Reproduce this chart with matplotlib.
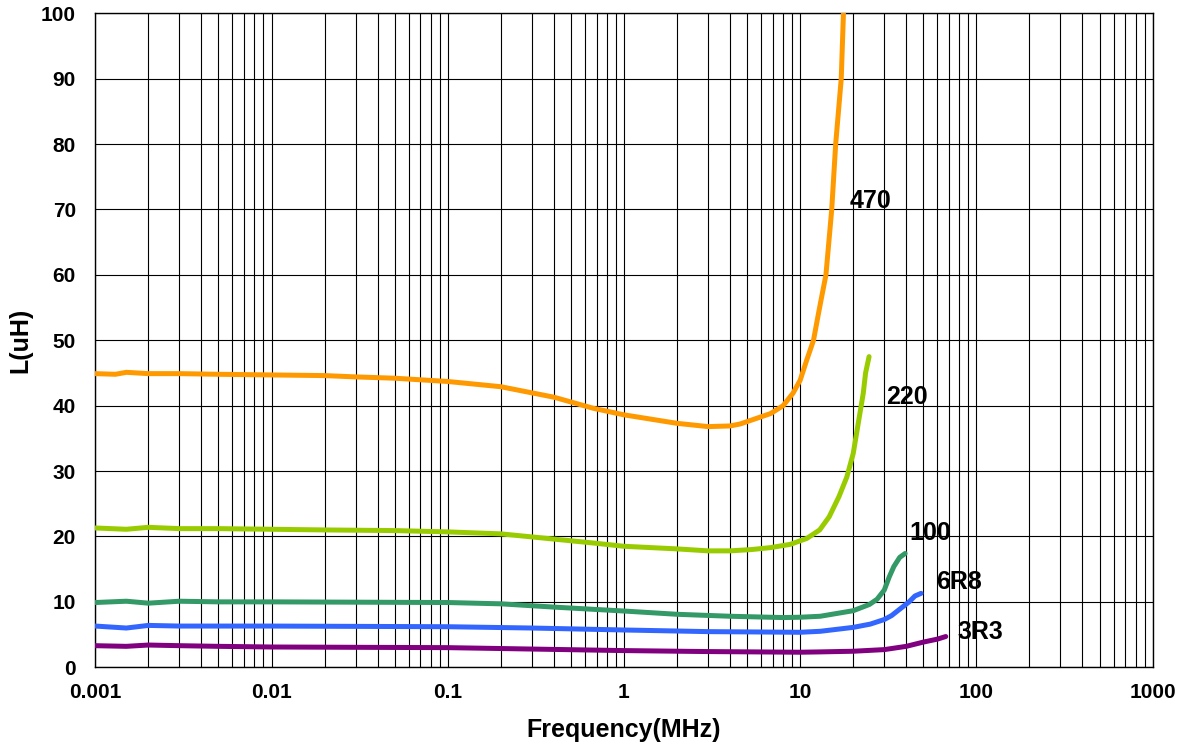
import matplotlib
matplotlib.use("Agg")
import matplotlib.pyplot as plt
from matplotlib.ticker import LogLocator, FixedLocator, NullFormatter

plt.rcParams["font.family"] = ["Liberation Sans", "DejaVu Sans"]
plt.rcParams["font.weight"] = "bold"

# Inductance vs frequency (MHz, uH)
f_470 = [0.001, 0.0013, 0.0015, 0.002, 0.003, 0.005, 0.01, 0.02, 0.03, 0.05, 0.1, 0.2, 0.4, 0.67,
         1, 2, 3, 4, 4.56, 5.3, 6.8, 8, 9.1, 10, 10.9, 11.9, 12.6, 13.1, 14.0, 15.1, 15.9, 17.1, 17.6]
L_470 = [44.9, 44.8, 45.1, 44.9, 44.9, 44.8, 44.7, 44.6, 44.4, 44.2, 43.7, 42.9, 41.3, 39.6,
         38.6, 37.3, 36.8, 36.9, 37.2, 37.8, 38.8, 40.0, 41.9, 43.9, 47.0, 50.0, 53.6, 56.0, 60.0, 70.0, 80.0, 90.0, 100.0]

f_220 = [0.001, 0.0015, 0.002, 0.003, 0.005, 0.01, 0.02, 0.05, 0.1, 0.2, 0.4, 0.67, 1, 2, 3, 4,
         5.3, 6.8, 8.8, 10.9, 12.9, 14.6, 16.6, 18.4, 20, 21.2, 22.8, 23.5, 24.6]
L_220 = [21.3, 21.1, 21.4, 21.2, 21.2, 21.1, 21.0, 20.9, 20.7, 20.4, 19.6, 19.0, 18.5, 18.1, 17.8, 17.8,
         18.0, 18.3, 18.8, 19.7, 21.0, 23.0, 26.1, 29.1, 32.7, 36.8, 41.9, 45.0, 47.5]

f_100 = [0.001, 0.0015, 0.002, 0.003, 0.005, 0.01, 0.1, 0.2, 0.4, 1, 2, 4, 8, 10, 13, 20, 24.7,
         27.3, 30, 32, 34, 36.7, 39.4]
L_100 = [9.9, 10.1, 9.8, 10.1, 10.0, 10.0, 9.9, 9.7, 9.2, 8.6, 8.1, 7.8, 7.6, 7.65, 7.8, 8.65, 9.6,
         10.4, 11.8, 13.8, 15.4, 16.8, 17.4]

f_6r8 = [0.001, 0.0015, 0.002, 0.003, 0.005, 0.01, 0.1, 0.3, 1, 3, 10, 13, 20, 25, 30, 33, 36,
         41.5, 44.8, 48.5]
L_6r8 = [6.3, 6.0, 6.4, 6.3, 6.3, 6.3, 6.2, 6.0, 5.7, 5.45, 5.35, 5.5, 6.1, 6.6, 7.3, 7.9, 8.7,
         10.0, 10.9, 11.3]

f_3r3 = [0.001, 0.0015, 0.002, 0.003, 0.005, 0.01, 0.1, 1, 3, 10, 13, 20, 30, 40, 50, 60, 67]
L_3r3 = [3.3, 3.2, 3.4, 3.3, 3.2, 3.1, 3.0, 2.55, 2.4, 2.3, 2.35, 2.45, 2.7, 3.2, 3.85, 4.3, 4.7]

names = ["470", "220", "100", "6R8", "3R3"]
colors = ["#FF9900", "#99CC00", "#339966", "#3366FF", "#800080"]
label_pos = [(19.2, 71.3), (30.9, 41.4), (41.5, 20.5), (59, 13.1), (78, 5.45)]

fig = plt.figure(figsize=(11.84, 7.51), dpi=100)
ax = fig.add_axes([0.0805, 0.1115, 0.893, 0.8708])

series = [(f_470, L_470), (f_220, L_220), (f_100, L_100), (f_6r8, L_6r8), (f_3r3, L_3r3)]
for (f, L), c in zip(series, colors):
    ax.plot(f, L, color=c, lw=3.6, solid_capstyle="round", solid_joinstyle="round", zorder=3)

for name, (x, y) in zip(names, label_pos):
    ax.text(x, y, name, fontsize=18, fontweight="bold", ha="left", va="center", zorder=4)

ax.set_xscale("log")
ax.set_xlim(0.001, 1000)
ax.set_ylim(0, 100)
ax.xaxis.set_major_locator(FixedLocator([0.001, 0.01, 0.1, 1, 10, 100, 1000]))
ax.xaxis.set_minor_locator(LogLocator(base=10, subs=range(2, 10), numticks=20))
ax.xaxis.set_minor_formatter(NullFormatter())
ax.set_xticklabels(["0.001", "0.01", "0.1", "1", "10", "100", "1000"])
ax.set_yticks(range(0, 101, 10))

ax.grid(True, which="both", axis="x", color="black", lw=0.8)
ax.grid(True, which="major", axis="y", color="black", lw=0.8)
ax.tick_params(which="both", length=0)
ax.tick_params(axis="x", pad=11, labelsize=15)
ax.tick_params(axis="y", pad=14, labelsize=15)
for s in ax.spines.values():
    s.set_color("black")
    s.set_linewidth(1.0)

ax.set_xlabel("Frequency(MHz)", fontsize=18, fontweight="bold", labelpad=12)
ax.set_ylabel("L(uH)", fontsize=18, fontweight="bold", labelpad=6)

fig.savefig("out.png", dpi=100)
